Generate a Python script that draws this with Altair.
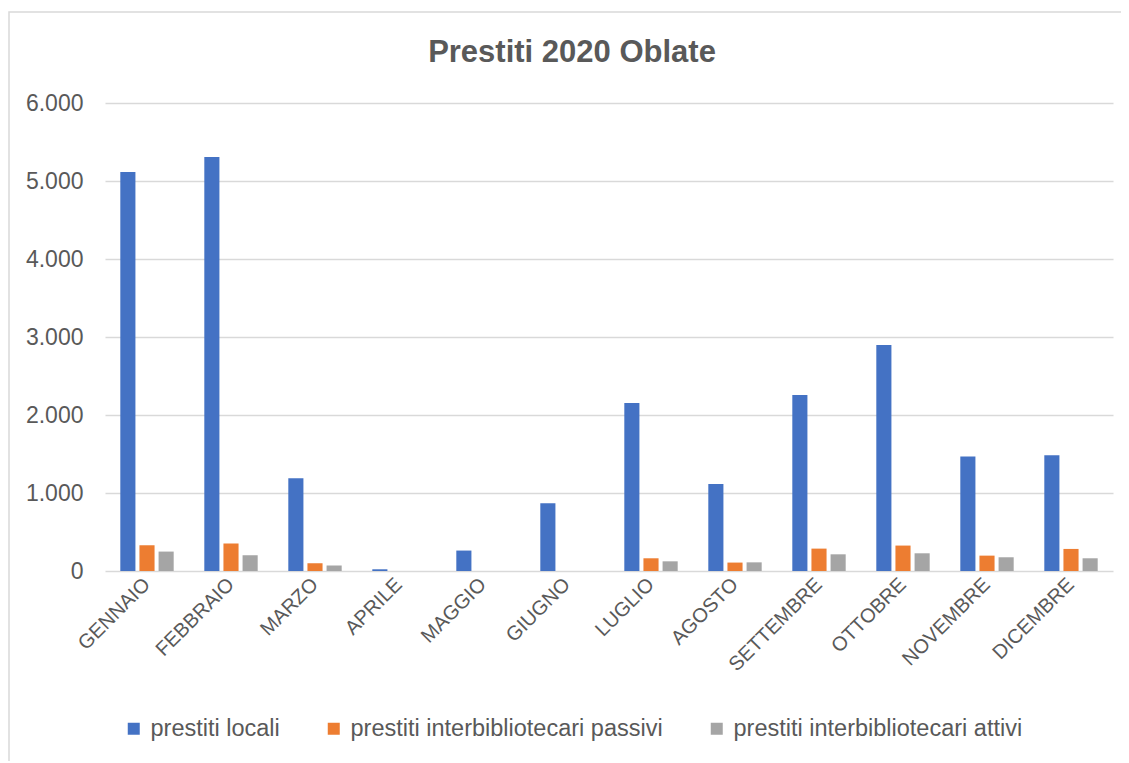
import altair as alt
import pandas as pd

months = ["GENNAIO", "FEBBRAIO", "MARZO", "APRILE", "MAGGIO", "GIUGNO",
          "LUGLIO", "AGOSTO", "SETTEMBRE", "OTTOBRE", "NOVEMBRE", "DICEMBRE"]
series = ["prestiti locali", "prestiti interbibliotecari passivi",
          "prestiti interbibliotecari attivi"]
locali = [5115, 5308, 1188, 22, 262, 868, 2154, 1115, 2256, 2897, 1467, 1483]
passivi = [330, 351, 99, 0, 0, 0, 163, 108, 287, 326, 197, 283]
attivi = [249, 201, 69, 0, 0, 0, 124, 111, 214, 227, 176, 163]
colors = ["#4472C4", "#ED7D31", "#A5A5A5"]

rows = []
for vals, s in zip([locali, passivi, attivi], series):
    for m, v in zip(months, vals):
        rows.append({"mese": m, "serie": s, "valore": v})
df = pd.DataFrame(rows)

FONT = "Liberation Sans"
TXT = "#595959"

bars = alt.Chart(df).mark_bar().encode(
    x=alt.X("mese:N", sort=months, title=None,
            scale=alt.Scale(paddingInner=0, paddingOuter=0),
            axis=alt.Axis(labelAngle=-45, labelFontSize=20, labelColor=TXT,
                          labelFont=FONT, ticks=False, domain=False,
                          labelPadding=10, labelAlign="right",
                          labelBaseline="middle")),
    xOffset=alt.XOffset("serie:N", sort=series,
                        scale=alt.Scale(paddingInner=0.21, paddingOuter=0.8)),
    y=alt.Y("valore:Q", title=None,
            scale=alt.Scale(domain=[0, 6000], nice=False),
            axis=alt.Axis(values=[0, 1000, 2000, 3000, 4000, 5000, 6000],
                          labelExpr="replace(format(datum.value, ','), ',', '.')",
                          labelFontSize=23, labelColor=TXT, labelFont=FONT,
                          ticks=False, domain=False, labelPadding=22,
                          gridColor="#D9D9D9", gridWidth=1.5)),
    color=alt.Color("serie:N", sort=series,
                    scale=alt.Scale(domain=series, range=colors),
                    legend=alt.Legend(title=None, orient="none", direction="horizontal",
                                      legendX=17, legendY=614,
                                      symbolType="square", symbolSize=144,
                                      symbolStrokeWidth=0,
                                      labelFontSize=23.5, labelColor=TXT, labelFont=FONT,
                                      labelOffset=5, columnPadding=42,
                                      gridAlign="none", labelLimit=500)),
)

frame = alt.Chart(pd.DataFrame({"a": [0]})).mark_rect(
    fill=None, stroke="#D9D9D9", strokeWidth=1.5
).encode(x=alt.value(-96), x2=alt.value(1030), y=alt.value(-91), y2=alt.value(700))

chart = alt.layer(frame, bars).properties(
    width=1008, height=468,
    title=alt.Title("Prestiti 2020 Oblate", fontSize=31, font=FONT, fontWeight="bold",
                    color=TXT, anchor="middle", frame="group", dx=-37, offset=-58),
    autosize=alt.AutoSizeParams(type="none"),
    padding={"left": 97, "top": 95, "right": 8, "bottom": 190},
).configure_view(stroke=None)

chart.save("out.html", embed_options={"renderer": "svg", "actions": False})
